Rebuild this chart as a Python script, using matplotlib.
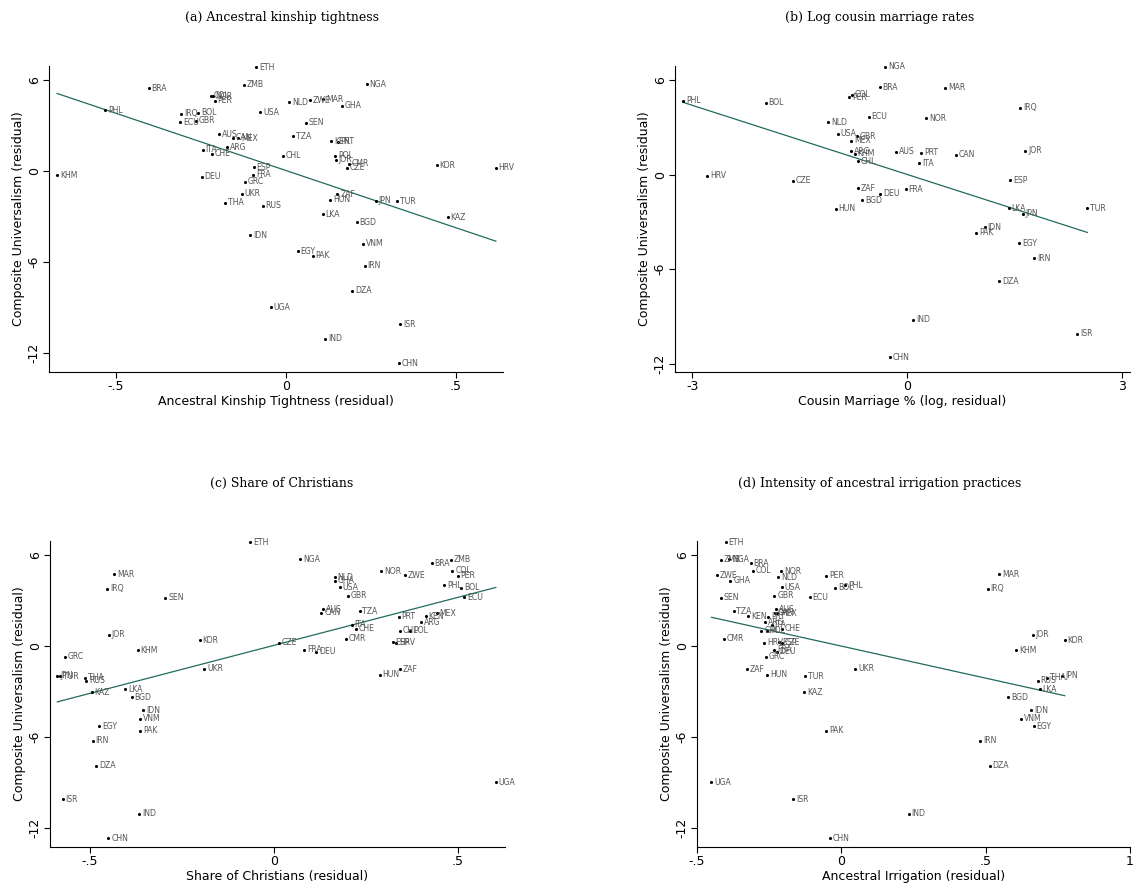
import numpy as np
import matplotlib
matplotlib.use('Agg')
import matplotlib.pyplot as plt

W, H = 1136, 886

# countries shared by panels (a), (c), (d)
iso = ['ETH', 'NGA', 'ZMB', 'BRA', 'MAR', 'COL', 'NOR', 'ZWE', 'PER', 'NLD',
       'GHA', 'PHL', 'BOL', 'USA', 'IRQ', 'GBR', 'SEN', 'ECU', 'AUS', 'TZA',
       'CAN', 'MEX', 'KEN', 'PRT', 'ARG', 'ITA', 'CHE', 'CHL', 'POL', 'JOR',
       'CMR', 'KOR', 'ESP', 'HRV', 'CZE', 'FRA', 'KHM', 'DEU', 'GRC', 'UKR',
       'ZAF', 'HUN', 'JPN', 'TUR', 'THA', 'RUS', 'LKA', 'KAZ', 'BGD', 'IDN',
       'VNM', 'EGY', 'PAK', 'IRN', 'DZA', 'UGA', 'ISR', 'IND', 'CHN']

universalism = [6.81, 5.70, 5.68, 5.45, 4.70, 4.94, 4.90, 4.66, 4.61, 4.50,
                4.28, 3.97, 3.82, 3.84, 3.74, 3.30, 3.16, 3.18, 2.42, 2.26,
                2.16, 2.13, 1.96, 1.91, 1.56, 1.40, 1.12, 0.99, 0.99, 0.73,
                0.46, 0.38, 0.24, 0.20, 0.20, -0.26, -0.31, -0.40, -0.71, -1.52,
                -1.56, -1.91, -1.96, -2.02, -2.09, -2.29, -2.85, -3.05, -3.38, -4.24,
                -4.81, -5.29, -5.58, -6.26, -7.91, -8.98, -10.09, -11.05, -12.66]

kinship = [-0.088, 0.237, -0.124, -0.404, 0.110, -0.221, -0.215, 0.071, -0.210, 0.009,
           0.164, -0.531, -0.258, -0.076, -0.308, -0.266, 0.059, -0.311, -0.196, 0.021,
           -0.157, -0.140, 0.133, 0.152, -0.174, -0.245, -0.217, -0.010, 0.144, 0.147,
           0.185, 0.443, -0.095, 0.617, 0.180, -0.096, -0.673, -0.248, -0.121, -0.130,
           0.151, 0.130, 0.264, 0.326, -0.180, -0.068, 0.108, 0.476, 0.208, -0.106,
           0.227, 0.034, 0.079, 0.231, 0.194, -0.045, 0.336, 0.115, 0.333]

christian = [-0.064, 0.071, 0.480, 0.429, -0.434, 0.485, 0.292, 0.357, 0.500, 0.165,
             0.165, 0.463, 0.509, 0.179, -0.453, 0.201, -0.295, 0.517, 0.133, 0.233,
             0.129, 0.442, 0.412, 0.339, 0.399, 0.211, 0.223, 0.342, 0.370, -0.449,
             0.196, -0.202, 0.323, 0.332, 0.014, 0.082, -0.370, 0.115, -0.568, -0.189,
             0.343, 0.287, -0.589, -0.582, -0.514, -0.511, -0.404, -0.495, -0.387, -0.355,
             -0.363, -0.475, -0.363, -0.493, -0.484, 0.603, -0.574, -0.367, -0.450]

irrigation = [-0.400, -0.388, -0.417, -0.314, 0.547, -0.305, -0.209, -0.431, -0.053, -0.218,
              -0.384, 0.013, -0.022, -0.206, 0.507, -0.232, -0.418, -0.109, -0.227, -0.373,
              -0.229, -0.222, -0.322, -0.254, -0.263, -0.241, -0.205, -0.277, -0.256, 0.663,
              -0.407, 0.774, -0.215, -0.267, -0.205, -0.233, 0.605, -0.223, -0.262, 0.048,
              -0.326, -0.256, 0.765, -0.125, 0.712, 0.680, 0.687, -0.129, 0.578, 0.658,
              0.623, 0.667, -0.052, 0.481, 0.514, -0.450, -0.166, 0.233, -0.039]

# panel (b) has its own sample
cousin_iso = ['NGA', 'BRA', 'MAR', 'COL', 'PER', 'PHL', 'BOL', 'IRQ', 'ECU', 'NOR',
              'NLD', 'USA', 'GBR', 'MEX', 'AUS', 'ARG', 'JOR', 'PRT', 'KHM', 'CAN',
              'CHL', 'ITA', 'HRV', 'ESP', 'CZE', 'ZAF', 'FRA', 'DEU', 'BGD', 'HUN',
              'LKA', 'TUR', 'JPN', 'IDN', 'PAK', 'EGY', 'IRN', 'DZA', 'IND', 'ISR', 'CHN']
cousin_x = [-0.307, -0.385, 0.530, -0.767, -0.813, -3.125, -1.976, 1.577, -0.539, 0.265,
            -1.106, -0.967, -0.702, -0.781, -0.153, -0.790, 1.646, 0.191, -0.734, 0.684,
            -0.688, 0.167, -2.791, 1.433, -1.591, -0.684, -0.022, -0.377, -0.632, -0.999,
            1.415, 2.512, 1.610, 1.080, 0.963, 1.563, 1.768, 1.279, 0.080, 2.368, -0.246]
cousin_y = [6.85, 5.55, 5.53, 5.07, 4.92, 4.69, 4.56, 4.26, 3.69, 3.58,
            3.33, 2.61, 2.44, 2.14, 1.46, 1.48, 1.51, 1.38, 1.34, 1.27,
            0.85, 0.72, -0.06, -0.36, -0.38, -0.85, -0.94, -1.21, -1.63, -2.16,
            -2.14, -2.14, -2.48, -3.35, -3.69, -4.34, -5.32, -6.76, -9.22, -10.10, -11.60]

LINE = '#1f6b5e'
LABEL = '#555555'

fig = plt.figure(figsize=(W / 100, H / 100), dpi=100)


def px_axes(left, top, right, bottom):
    return fig.add_axes([left / W, 1 - bottom / H, (right - left) / W, (bottom - top) / H])


def panel(ax, x, y, names, xlim, ylim, xticks, xticklabels, xlabel, title, title_x, title_y):
    x = np.asarray(x)
    y = np.asarray(y)
    ax.scatter(x, y, s=5, color='black', linewidths=0, zorder=3)
    for xi, yi, n in zip(x, y, names):
        ax.annotate(n, (xi, yi), xytext=(2.0, 0), textcoords='offset points',
                    fontsize=5.6, color=LABEL, va='center', ha='left')
    # linear fit, drawn over the observed x range
    slope, icpt = np.polyfit(x, y, 1)
    xx = np.array([x.min(), x.max()])
    ax.plot(xx, icpt + slope * xx, color=LINE, lw=0.9, zorder=2)

    ax.set_xlim(xlim)
    ax.set_ylim(ylim)
    ax.set_xticks(xticks)
    ax.set_xticklabels(xticklabels, fontsize=9)
    ax.set_yticks([-12, -6, 0, 6])
    ax.set_yticklabels(['-12', '-6', '0', '6'], fontsize=9, rotation=90, va='center')
    for s in ('top', 'right'):
        ax.spines[s].set_visible(False)
    for s in ('left', 'bottom'):
        ax.spines[s].set_linewidth(0.8)
    ax.tick_params(direction='out', length=4, width=0.8, pad=2)
    ax.set_xlabel(xlabel, fontsize=9, labelpad=1)
    ax.set_ylabel('Composite Universalism (residual)', fontsize=9, labelpad=2)
    fig.text(title_x / W, 1 - title_y / H, title, ha='center', va='center',
             fontsize=9, family='DejaVu Serif')


ax_a = px_axes(49, 66, 503, 372)
panel(ax_a, kinship, universalism, iso, (-0.697, 0.638), (-13.25, 6.9),
      [-0.5, 0, 0.5], ['-.5', '0', '.5'], 'Ancestral Kinship Tightness (residual)',
      '(a) Ancestral kinship tightness', 282, 17)

ax_b = px_axes(675, 66, 1130, 372)
panel(ax_b, cousin_x, cousin_y, cousin_iso, (-3.241, 3.107), (-12.53, 6.9),
      [-3, 0, 3], ['-3', '0', '3'], 'Cousin Marriage % (log, residual)',
      '(b) Log cousin marriage rates', 880, 17)

ax_c = px_axes(50, 541, 505, 847)
panel(ax_c, christian, universalism, iso, (-0.609, 0.628), (-13.25, 6.9),
      [-0.5, 0, 0.5], ['-.5', '0', '.5'], 'Share of Christians (residual)',
      '(c) Share of Christians', 282, 483)

ax_d = px_axes(697, 541, 1130, 847)
panel(ax_d, irrigation, universalism, iso, (-0.5, 1.0), (-13.25, 6.9),
      [-0.5, 0, 0.5, 1], ['-.5', '0', '.5', '1'], 'Ancestral Irrigation (residual)',
      '(d) Intensity of ancestral irrigation practices', 880, 483)

fig.savefig('out.png', dpi=100, facecolor='white')
